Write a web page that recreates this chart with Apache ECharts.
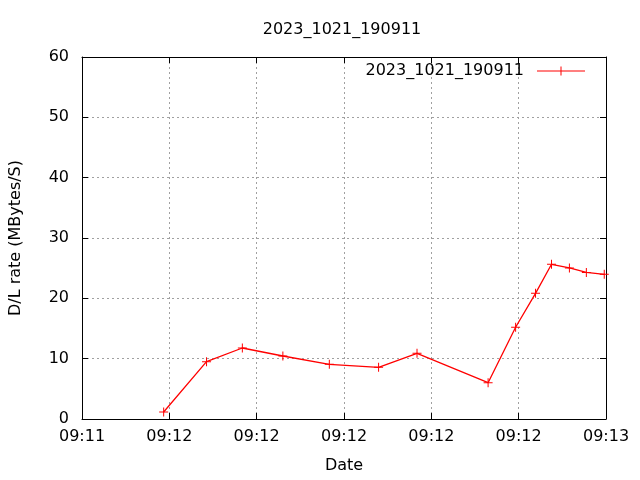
<!DOCTYPE html>
<html><head><meta charset="utf-8">
<script src="https://cdn.jsdelivr.net/npm/echarts@6/dist/echarts.min.js"></script>
<style>html,body{margin:0;padding:0;background:#fff}#c{width:640px;height:480px}</style>
</head><body><div id="c"></div>
<script>
var seriesName = '2023_1021_190911';
var xTickLabels = ['09:11','09:12','09:12','09:12','09:12','09:12','09:13'];
var timeSec = [9.35,14.26,18.36,23.0,28.32,33.96,38.36,46.5,49.65,51.93,53.76,55.81,57.75,59.8];
var rate = [1.16,9.5,11.77,10.44,9.06,8.57,10.89,6.02,15.2,20.83,25.64,25.03,24.3,23.98];

var data = timeSec.map(function(t,i){return [t, rate[i]];});
var F = 'DejaVu Sans';
var FS = 16;
var plus = 'path://M4,0H5V4H9V5H5V9H4V5H0V4H4Z';
var legendIcon = 'path://M0,4H23.5V0H24.5V4H48V5H24.5V9H23.5V5H0Z';
var gridLine = {show:true, lineStyle:{color:'#a0a0a0', type:[2,3], width:1}};
var chart = echarts.init(document.getElementById('c'), null, {renderer:'canvas'});
chart.setOption({
  backgroundColor:'#fff',
  animation:false,
  title:{text:seriesName, left:337, textAlign:'center', top:17,
    textStyle:{fontFamily:F, fontSize:FS, fontWeight:'normal', color:'#000'}},
  legend:{right:55, top:63, padding:0, itemWidth:48, itemHeight:9, align:'right', itemGap:0,
    textStyle:{fontFamily:F, fontSize:FS, color:'#000', padding:[0,8,0,0]},
    data:[{name:seriesName, icon:legendIcon, itemStyle:{color:'#ff0000'}}]},
  grid:{left:80, right:34, top:57, bottom:61, containLabel:false},
  xAxis:[{type:'value', min:0, max:60, interval:10,
    name:'Date', nameLocation:'middle', nameGap:39,
    nameTextStyle:{fontFamily:F, fontSize:FS, color:'#000'},
    axisLine:{show:true, lineStyle:{color:'#000', width:1}},
    axisTick:{show:true, inside:true, length:6, lineStyle:{color:'#000'}},
    axisLabel:{fontFamily:F, fontSize:FS, color:'#000', margin:10,
      formatter:function(v){return xTickLabels[Math.round(v/10)];}},
    splitLine:gridLine},
    {type:'value', position:'top', min:0, max:60, interval:10,
    axisLine:{show:true, onZero:false, lineStyle:{color:'#000', width:1}},
    axisTick:{show:true, inside:true, length:6, lineStyle:{color:'#000'}},
    axisLabel:{show:false}, splitLine:{show:false}}],
  yAxis:[{type:'value', min:0, max:60, interval:10,
    name:'D/L rate (MBytes/S)', nameLocation:'middle', nameGap:58,
    nameTextStyle:{fontFamily:F, fontSize:FS, color:'#000'},
    axisLine:{show:true, lineStyle:{color:'#000', width:1}},
    axisTick:{show:true, inside:true, length:6, lineStyle:{color:'#000'}},
    axisLabel:{fontFamily:F, fontSize:FS, color:'#000', margin:13},
    splitLine:gridLine},
    {type:'value', position:'right', min:0, max:60, interval:10,
    axisLine:{show:true, onZero:false, lineStyle:{color:'#000', width:1}},
    axisTick:{show:true, inside:true, length:6, lineStyle:{color:'#000'}},
    axisLabel:{show:false}, splitLine:{show:false}}],
  series:[{name:seriesName, type:'line', data:data, xAxisIndex:0, yAxisIndex:0,
    symbol:plus, symbolSize:9, showAllSymbol:true,
    lineStyle:{color:'#ff0000', width:1.3}, itemStyle:{color:'#ff0000'}}]
});
</script></body></html>
